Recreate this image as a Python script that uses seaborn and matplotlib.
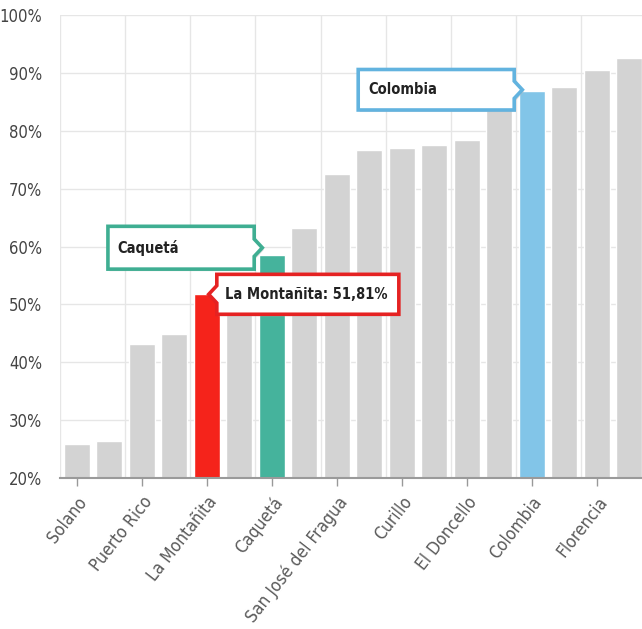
import numpy as np
import pandas as pd
import matplotlib
matplotlib.use("Agg")
import matplotlib.pyplot as plt
from matplotlib.patches import Polygon
import seaborn as sns

categories = ["Solano", "Solita", "Puerto Rico", "Cartagena del Chairá", "La Montañita",
              "Milán", "Caquetá", "Valparaíso", "San José del Fragua", "Albania",
              "Curillo", "El Paujil", "El Doncello", "Belén de los Andaquíes",
              "Colombia", "Morelia", "Florencia", "San Vicente del Caguán"]
values = [25.9, 26.4, 43.2, 44.9, 51.81, 54.0, 58.6, 63.2, 72.5, 76.7,
          77.0, 77.6, 78.4, 85.0, 86.8, 87.6, 90.5, 92.5]
highlight = {"La Montañita": "#f5231b", "Caquetá": "#45b39c", "Colombia": "#82c5e8"}
callout_labels = {"La Montañita": "La Montañita: 51,81%", "Caquetá": "Caquetá", "Colombia": "Colombia"}
yticks = [20, 30, 40, 50, 60, 70, 80, 90, 100]

sns.set_theme(style="white")
plt.rcParams["font.family"] = ["DejaVu Sans"]
plt.rcParams["font.stretch"] = "condensed"

df = pd.DataFrame({"cat": categories, "val": values})
palette = {c: highlight.get(c, "#d3d3d3") for c in categories}

fig = plt.figure(figsize=(6.42, 6.29), dpi=100)
ax = fig.add_axes([0.0942, 0.240, 0.9113, 0.736])
sns.barplot(data=df, x="cat", y="val", hue="cat", palette=palette, width=0.8,
            legend=False, ax=ax, saturation=1, zorder=2)
ax.set_ylim(20, 100)
ax.set_xlim(-0.5, len(categories) - 0.5)
ax.set_xlabel("")
ax.set_ylabel("")
ax.set_yticks(yticks)
ax.set_yticklabels([f"{v}%" for v in yticks], fontsize=12, color="#444444",
                   fontstretch="condensed")
ax.set_xticks(range(0, len(categories), 2))
ax.set_xticklabels(categories[0::2], rotation=52, ha="right", rotation_mode="anchor",
                   fontsize=12.5, color="#5a5a5a", fontstretch="condensed")
ax.set_xticks(np.arange(-0.5, len(categories), 2), minor=True)
ax.grid(axis="y", color="#e6e6e6", linewidth=1, zorder=0)
ax.grid(axis="x", which="minor", color="#e6e6e6", linewidth=1, zorder=0)
ax.grid(axis="x", which="major", visible=False)
ax.tick_params(axis="x", which="major", length=6, color="#999999", width=1, bottom=True, pad=5)
ax.tick_params(axis="x", which="minor", length=0)
ax.tick_params(axis="y", length=0, pad=13)
for s in ["top", "right", "left"]:
    ax.spines[s].set_visible(False)
ax.spines["bottom"].set_color("#9a9a9a")
ax.spines["bottom"].set_linewidth(1.5)
ax.spines["bottom"].set_zorder(3)


def callout(name, side, width, height, dy, color):
    i = categories.index(name)
    v = values[i]
    yc = v + dy
    nw, nh = 0.25, 1.5
    if side == "right":
        tip = i - 0.29
        x1 = tip - nw
        x0 = x1 - width
        pts = [(x0, yc - height / 2), (x1, yc - height / 2), (x1, yc - nh), (tip, yc),
               (x1, yc + nh), (x1, yc + height / 2), (x0, yc + height / 2)]
        tx = x0 + 0.3
    else:
        tip = i + 0.06
        x0 = tip + nw
        x1 = x0 + width
        pts = [(x0, yc - height / 2), (x1, yc - height / 2), (x1, yc + height / 2),
               (x0, yc + height / 2), (x0, yc + nh), (tip, yc), (x0, yc - nh)]
        tx = x0 + 0.25
    shadow = Polygon([(px + 0.05, py - 0.35) for px, py in pts], closed=True,
                     facecolor="#bbbbbb", edgecolor="none", alpha=0.5, zorder=4)
    ax.add_patch(shadow)
    ax.add_patch(Polygon(pts, closed=True, facecolor="white", edgecolor=color,
                         linewidth=2.6, zorder=5, joinstyle="miter"))
    ax.text(tx, yc, callout_labels[name], fontsize=10.5, fontweight="bold",
            fontstretch="condensed", color="#222222", ha="left", va="center", zorder=6)


callout("Caquetá", "right", 4.5, 7.4, 1.2, "#3fae92")
callout("Colombia", "right", 4.8, 7.0, 0.3, "#62b3df")
callout("La Montañita", "left", 5.6, 6.9, -0.06, "#e52222")

fig.savefig("out.png", dpi=100)
